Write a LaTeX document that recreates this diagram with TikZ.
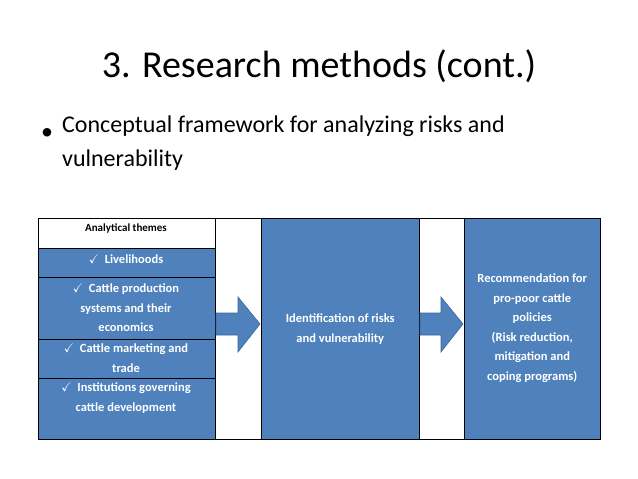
\documentclass[tikz,border=0pt]{standalone}
\usepackage{fontspec}
\setmainfont{Carlito}
\usepackage{amssymb}
\definecolor{themeblue}{HTML}{4F81BD}
\definecolor{arrowline}{HTML}{3C679A}
\tikzset{
  cell/.style={draw=black, line width=0.5pt, fill=themeblue, anchor=north west, inner sep=0pt},
  celltext/.style={text=white, font=\bfseries\fontsize{12.5}{19.5}\selectfont, align=center, inner sep=0pt},
  blockarrow/.style={fill=themeblue, draw=arrowline, line width=0.6pt, line join=miter}
}
\newcommand{\tick}{\ensuremath{\checkmark}\ \ }
\begin{document}
\begin{tikzpicture}[x=1pt,y=-1pt]
  \useasboundingbox (0,0) rectangle (638,479);
  \node[font=\fontsize{38}{44}\selectfont] (title) at (319,66) {3. Research methods (cont.)};
  \node[font=\fontsize{24}{29}\selectfont] (bullet) at (47,134) {\textbullet};
  \node[anchor=north west, align=left, font=\fontsize{24}{34}\selectfont, inner sep=0pt] (intro) at (62,116)
    {Conceptual framework for analyzing risks and\\vulnerability};

  % left column
  \node[cell, fill=white, minimum width=177pt, minimum height=30pt] (head) at (38,218) {};
  \node[cell, minimum width=177pt, minimum height=29pt] (live) at (38,248) {};
  \node[cell, minimum width=177pt, minimum height=62pt] (prod) at (38,277) {};
  \node[cell, minimum width=177pt, minimum height=39pt] (mark) at (38,339) {};
  \node[cell, minimum width=177pt, minimum height=61pt] (inst) at (38,378) {};
  \node[font=\bfseries\fontsize{11}{13}\selectfont] (headtext) at (126,228) {Analytical themes};
  \node[celltext] (livetext) at (126,259) {\tick Livelihoods};
  \node[celltext] (prodtext) at (126,308) {\tick Cattle production\\systems and their\\economics};
  \node[celltext] (marktext) at (126,358) {\tick Cattle marketing and\\trade};
  \node[celltext] (insttext) at (126,398) {\tick Institutions governing\\cattle development};

  % gaps
  \draw[line width=0.5pt] (215,218) -- (261,218) (215,439) -- (261,439);
  \draw[line width=0.5pt] (419,218) -- (464,218) (419,439) -- (464,439);

  % middle and right columns
  \node[cell, minimum width=158pt, minimum height=221pt] (ident) at (261,218) {};
  \node[cell, minimum width=136pt, minimum height=221pt] (recom) at (464,218) {};
  \node[celltext] (identtext) at (ident.center |- 0,329) {Identification of risks\\and vulnerability};
  \node[celltext] (recomtext) at (recom.center |- 0,328)
    {Recommendation for\\pro-poor cattle\\policies\\(Risk reduction,\\mitigation and\\coping programs)};

  % block arrows
  \draw[blockarrow] (216,313) -- (238,313) -- (238,297) -- (260,324) -- (238,352) -- (238,335) -- (216,335) -- cycle;
  \draw[blockarrow] (420,313) -- (441,313) -- (441,297) -- (463,324) -- (441,352) -- (441,335) -- (420,335) -- cycle;
\end{tikzpicture}
\end{document}
